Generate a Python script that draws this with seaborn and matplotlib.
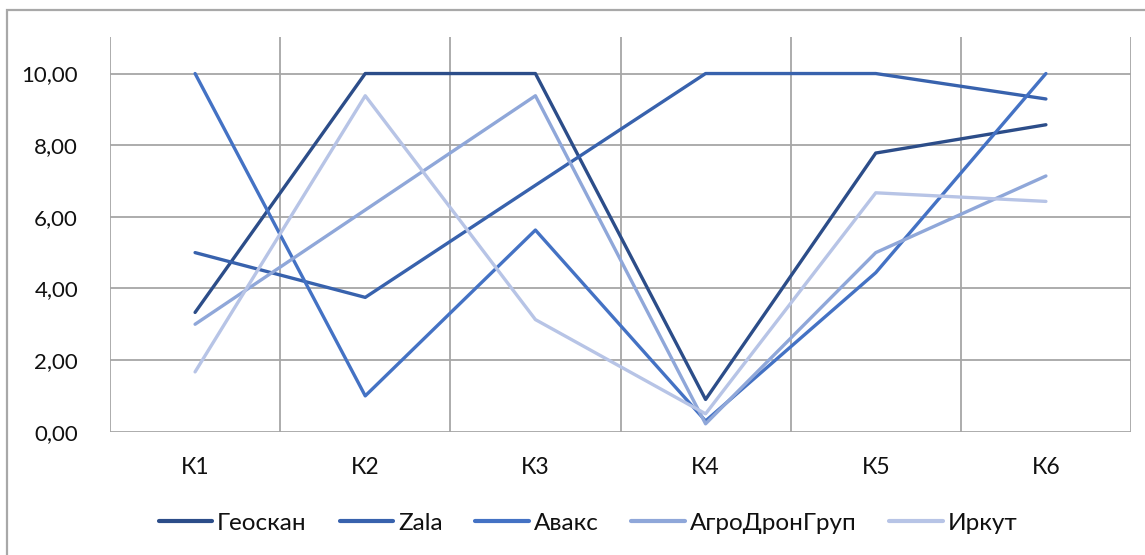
import matplotlib
matplotlib.use("Agg")
import matplotlib.pyplot as plt
from matplotlib.patches import Rectangle
from matplotlib.ticker import FuncFormatter
import numpy as np
import pandas as pd
import seaborn as sns

# Criteria and scores per manufacturer
criteria = ["К1", "К2", "К3", "К4", "К5", "К6"]
geoskan = [3.33, 10.00, 10.00, 0.90, 7.78, 8.57]
zala = [5.00, 3.75, 6.88, 10.00, 10.00, 9.29]
avaks = [10.00, 1.00, 5.63, 0.30, 4.44, 10.00]
agrodron = [3.00, 6.19, 9.38, 0.22, 5.00, 7.14]
irkut = [1.67, 9.38, 3.13, 0.50, 6.67, 6.43]
companies = ["Геоскан", "Zala", "Авакс", "АгроДронГруп", "Иркут"]
y_ticks = [0, 2, 4, 6, 8, 10]

colors = ["#2C4D89", "#3862AD", "#4472C4", "#8FA7D9", "#B7C4E6"]

series = [geoskan, zala, avaks, agrodron, irkut]
df = pd.DataFrame(
    [(c, i, v) for c, vals in zip(companies, series) for i, v in enumerate(vals)],
    columns=["company", "pos", "value"],
)

sns.set_theme(style="white")
plt.rcParams["font.family"] = ["Lato", "DejaVu Sans"]

fig = plt.figure(figsize=(11.45, 5.55), dpi=100)
ax = fig.add_axes([110 / 1145, 1 - 431.7 / 555, (1131 - 110) / 1145, (431.7 - 37) / 555])

grid_color = "#A6A6A6"
text_color = "#111111"

sns.lineplot(
    data=df, x="pos", y="value", hue="company", hue_order=companies,
    palette=colors, linewidth=2.4, ax=ax, legend=True, zorder=3,
)

n = len(criteria)
ax.set_xlim(-0.5, n - 0.5)
ax.set_ylim(0, 11.02)

# category boundaries as grid lines, labels centred in each category
bounds = np.arange(n + 1) - 0.5
ax.set_xticks(bounds)
ax.set_xticklabels([""] * len(bounds))
ax.set_xticks(np.arange(n), minor=True)
ax.set_xticklabels(criteria, minor=True)
ax.tick_params(axis="x", which="major", direction="out", length=6, width=1.3,
               color=grid_color)
ax.tick_params(axis="x", which="minor", length=0, pad=18, labelsize=16.5,
               labelcolor=text_color)

ax.set_yticks(y_ticks)
ax.yaxis.set_major_formatter(FuncFormatter(lambda v, p: f"{v:.2f}".replace(".", ",")))
ax.tick_params(axis="y", direction="out", length=7, width=1.3, color=grid_color,
               pad=16, labelsize=16, labelcolor=text_color)

for b in bounds:
    ax.axvline(b, color=grid_color, lw=1.3, zorder=1)
for t in y_ticks:
    ax.axhline(t, color=grid_color, lw=1.3, zorder=1)

for s in ax.spines.values():
    s.set_visible(False)
ax.set_xlabel("")
ax.set_ylabel("")

handles, labels = ax.get_legend_handles_labels()
for h in handles:
    h.set_linewidth(3)
leg = ax.legend(
    handles, labels, loc="center", bbox_to_anchor=(588 / 1145, 1 - 523 / 555),
    bbox_transform=fig.transFigure, ncol=5, frameon=False, fontsize=17.5,
    handlelength=2.2, handletextpad=0.2, columnspacing=1.35,
)
for t in leg.get_texts():
    t.set_color(text_color)

# chart frame
fig.patches.append(Rectangle((7 / 1145, -0.05), 1.1, 1 - 10 / 555 + 0.05,
                             transform=fig.transFigure, fill=False,
                             edgecolor="#A8A8A8", linewidth=1.6))

fig.savefig("out.png", dpi=100)
